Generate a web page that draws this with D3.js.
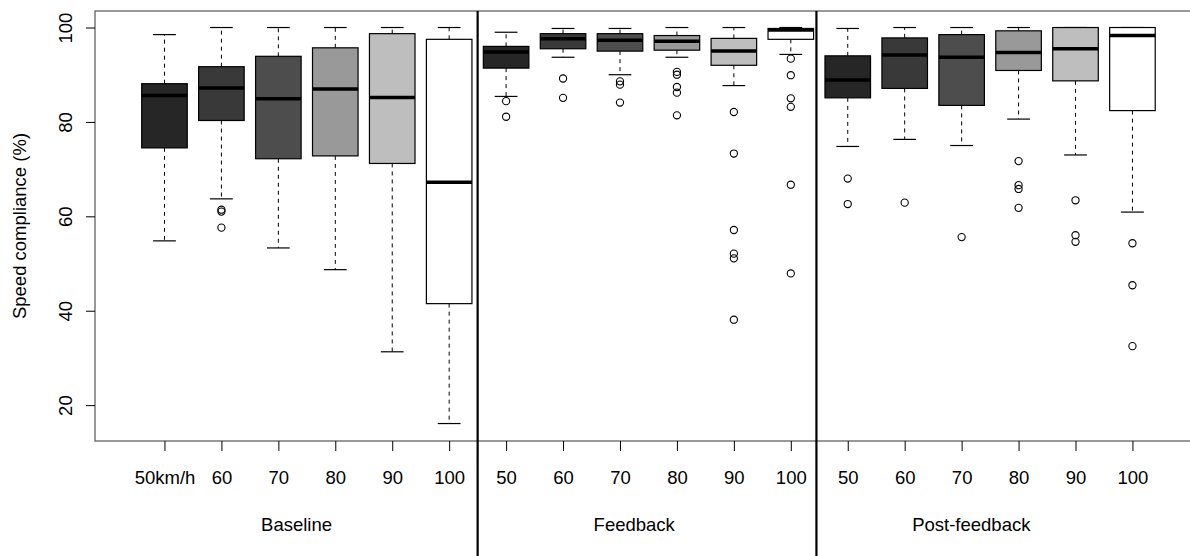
<!DOCTYPE html>
<html>
<head>
<meta charset="utf-8">
<script src="https://cdn.jsdelivr.net/npm/d3@7"></script>
<style>
	body { margin: 0; background: #fff; }
	text { font-family: 'Liberation Sans', Arial, sans-serif; fill: #000; }
</style>
</head>
<body>
<div id="chart"></div>
<script>
// phases and speed categories
const phases = ['Baseline', 'Feedback', 'Post-feedback'];
const phaseLabelAt = [3.32, 9.25, 15.17];
const speedLabels = ['50km/h', '60', '70', '80', '90', '100', '50', '60', '70', '80', '90', '100', '50', '60', '70', '80', '90', '100'];
const fills = ['#262626', '#393939', '#4d4d4d', '#999999', '#bebebe', '#ffffff'];
const separators = [6.5, 12.45];
const yTicks = [20, 40, 60, 80, 100];

// box statistics, one entry per box (left to right)
const lowerWhisker = [54.8, 63.7, 53.3, 48.7, 31.3, 16.1, 85.4, 93.7, 90.0, 93.7, 87.7, 94.3, 74.8, 76.3, 75.0, 80.6, 73.0, 60.9];
const q1 = [74.5, 80.3, 72.2, 72.8, 71.2, 41.5, 91.4, 95.5, 95.0, 95.2, 92.0, 97.5, 85.1, 87.1, 83.5, 90.9, 88.7, 82.4];
const median = [85.6, 87.2, 84.9, 87.0, 85.2, 67.2, 94.8, 97.6, 97.3, 97.1, 95.0, 99.5, 88.9, 94.2, 93.7, 94.7, 95.5, 98.3];
const q3 = [88.1, 91.7, 93.9, 95.7, 98.7, 97.5, 96.0, 98.7, 98.7, 98.3, 97.7, 99.8, 94.0, 97.8, 98.5, 99.3, 100, 100];
const upperWhisker = [98.5, 100, 100, 100, 100, 100, 99.0, 99.8, 99.8, 100, 100, 100, 99.8, 100, 100, 100, 100, 100];
const outliers = [
	[],
	[61.4, 61.0, 57.6],
	[],
	[],
	[],
	[],
	[84.4, 81.1],
	[89.2, 85.1],
	[88.6, 87.9, 84.1],
	[90.6, 90.0, 87.4, 86.2, 81.4],
	[82.1, 73.3, 57.1, 52.1, 51.1, 38.1],
	[93.4, 89.9, 85.0, 83.2, 66.7, 47.9],
	[68.0, 62.6],
	[62.9],
	[55.6],
	[71.7, 66.6, 65.8, 61.8],
	[63.4, 56.0, 54.6],
	[54.3, 45.4, 32.5]
];

const width = 1190;
const height = 556;
const plot = { left: 95, top: 11, bottom: 441 };

const svg = d3.select('#chart').append('svg').attr('width', width).attr('height', height);

const x = d3.scaleLinear().domain([-0.22, 19.22]).range([plot.left, plot.left + 19.44 * 56.94]);
const y = d3.scaleLinear().domain([12.4, 103.5]).range([plot.bottom, plot.top]);
const unit = x(1) - x(0);

const boxes = speedLabels.map((label, i) => ({
	pos: i + 1,
	label,
	fill: fills[i % 6],
	lo: lowerWhisker[i],
	q1: q1[i],
	med: median[i],
	q3: q3[i],
	hi: upperWhisker[i],
	out: outliers[i]
}));

// frame
svg.append('rect')
	.attr('x', plot.left)
	.attr('y', plot.top)
	.attr('width', x(19.22) - plot.left)
	.attr('height', plot.bottom - plot.top)
	.attr('fill', 'none')
	.attr('stroke', '#555')
	.attr('stroke-width', 1.2);

const g = svg.append('g').selectAll('g').data(boxes).enter().append('g');

// whiskers
g.append('line')
	.attr('x1', d => x(d.pos)).attr('x2', d => x(d.pos))
	.attr('y1', d => y(d.q3)).attr('y2', d => y(d.hi))
	.attr('stroke', '#000').attr('stroke-dasharray', '4,4');
g.append('line')
	.attr('x1', d => x(d.pos)).attr('x2', d => x(d.pos))
	.attr('y1', d => y(d.q1)).attr('y2', d => y(d.lo))
	.attr('stroke', '#000').attr('stroke-dasharray', '4,4');

// staples
g.append('line')
	.attr('x1', d => x(d.pos - 0.2)).attr('x2', d => x(d.pos + 0.2))
	.attr('y1', d => y(d.hi)).attr('y2', d => y(d.hi))
	.attr('stroke', '#000').attr('stroke-width', 1.2);
g.append('line')
	.attr('x1', d => x(d.pos - 0.2)).attr('x2', d => x(d.pos + 0.2))
	.attr('y1', d => y(d.lo)).attr('y2', d => y(d.lo))
	.attr('stroke', '#000').attr('stroke-width', 1.2);

// boxes
g.append('rect')
	.attr('x', d => x(d.pos - 0.4))
	.attr('width', 0.8 * unit)
	.attr('y', d => y(d.q3))
	.attr('height', d => y(d.q1) - y(d.q3))
	.attr('fill', d => d.fill)
	.attr('stroke', '#000')
	.attr('stroke-width', 1.2);

// medians
g.append('line')
	.attr('x1', d => x(d.pos - 0.4)).attr('x2', d => x(d.pos + 0.4))
	.attr('y1', d => y(d.med)).attr('y2', d => y(d.med))
	.attr('stroke', '#000').attr('stroke-width', 3.5);

// outliers
g.each(function (d) {
	d3.select(this).selectAll('circle').data(d.out).enter().append('circle')
		.attr('cx', x(d.pos))
		.attr('cy', v => y(v))
		.attr('r', 3.6)
		.attr('fill', 'none')
		.attr('stroke', '#000')
		.attr('stroke-width', 1.1);
});

// y axis
const yAxis = svg.append('g')
	.attr('transform', `translate(${plot.left},0)`)
	.call(d3.axisLeft(y).tickValues(yTicks).tickSize(9).tickSizeOuter(0));
yAxis.select('.domain').remove();
yAxis.selectAll('line').attr('stroke', '#000');
yAxis.selectAll('text')
	.attr('x', 0).attr('dy', null)
	.attr('text-anchor', 'middle')
	.attr('dominant-baseline', 'central')
	.attr('transform', d => `translate(-30,${y(d)}) rotate(-90)`)
	.attr('y', 0)
	.style('font-size', '18.5px');
// axisLeft places text inside tick groups already translated; undo group translate for text
yAxis.selectAll('.tick text').attr('transform', 'translate(-30,0) rotate(-90)');

// x axis
const xAxis = svg.append('g')
	.attr('transform', `translate(0,${plot.bottom})`)
	.call(d3.axisBottom(x).tickValues(d3.range(1, 19)).tickSize(10).tickSizeOuter(0)
		.tickFormat((d, i) => speedLabels[i]));
xAxis.select('.domain').remove();
xAxis.selectAll('line').attr('stroke', '#000');
xAxis.selectAll('text')
	.attr('y', 37)
	.attr('dy', '0.35em')
	.style('font-size', '18.5px');

// phase labels
svg.append('g').selectAll('text').data(phases).enter().append('text')
	.attr('x', (d, i) => x(phaseLabelAt[i]))
	.attr('y', 525)
	.attr('dy', '0.35em')
	.attr('text-anchor', 'middle')
	.style('font-size', '18.5px')
	.text(d => d);

// separators
svg.append('g').selectAll('line').data(separators).enter().append('line')
	.attr('x1', d => x(d)).attr('x2', d => x(d))
	.attr('y1', plot.top).attr('y2', height)
	.attr('stroke', '#000').attr('stroke-width', 2.2);

// y title
svg.append('text')
	.attr('transform', `translate(19,${(plot.top + plot.bottom) / 2}) rotate(-90)`)
	.attr('text-anchor', 'middle')
	.attr('dominant-baseline', 'central')
	.style('font-size', '18.5px')
	.text('Speed compliance (%)');
</script>
</body>
</html>
